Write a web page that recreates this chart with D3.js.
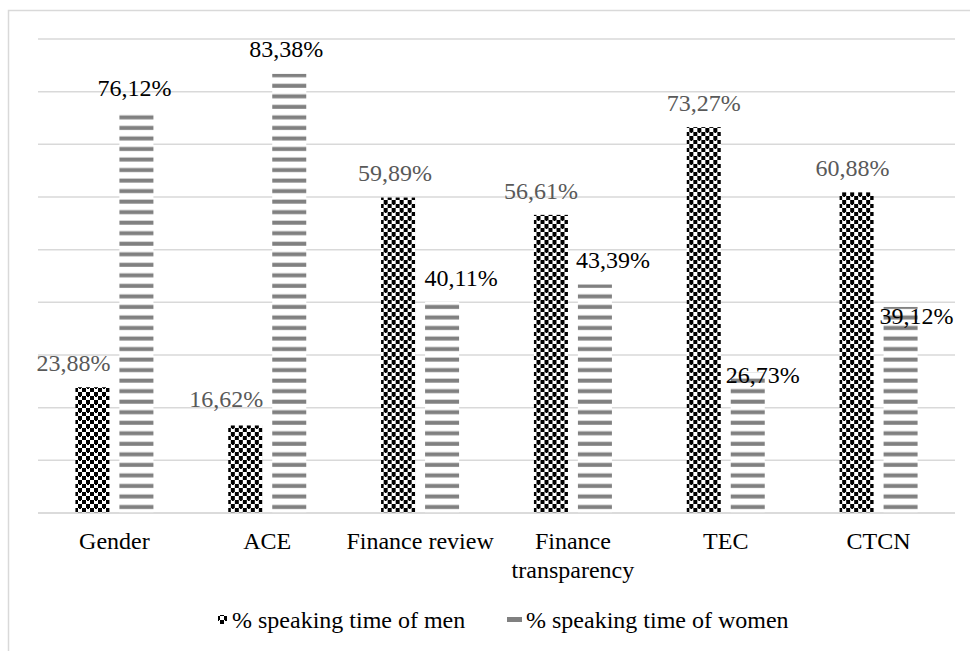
<!DOCTYPE html>
<html><head><meta charset="utf-8"><script src="https://cdn.jsdelivr.net/npm/d3@7/dist/d3.min.js"></script></head>
<body style="margin:0">
<svg id="chart" width="970" height="651"></svg>
<script>
// ---- Data ----
const categories = ["Gender", "ACE", "Finance review", "Finance transparency", "TEC", "CTCN"];
const menValues = [23.88, 16.62, 59.89, 56.61, 73.27, 60.88];
const womenValues = [76.12, 83.38, 40.11, 43.39, 26.73, 39.12];
const seriesNames = ["% speaking time of men", "% speaking time of women"];
const yTicks = [0, 10, 20, 30, 40, 50, 60, 70, 80, 90];

// ---- Layout (not data) ----
const plot = { left: 38, right: 955, top: 39, bottom: 513 };
const fontSize = 24;
const FONT = '"Liberation Serif"';
// manual data label nudges (pixels), as placed in the original
const menLabelNudge = [[-19, -24], [-19, -26], [-3, -24], [-10, -24], [0, -24], [-4, -24]];
const womenLabelNudge = [[-2, -24], [-3, -25], [19, -24], [18, -24], [15, 3], [16, 9]];

const svg = d3.select("#chart");
const defs = svg.append("defs");

// checker pattern for men
const chk = defs.append("pattern").attr("id", "checker")
  .attr("patternUnits", "userSpaceOnUse").attr("width", 8).attr("height", 8);
chk.append("rect").attr("width", 8).attr("height", 8).attr("fill", "#fff");
chk.append("rect").attr("x", 0).attr("y", 0).attr("width", 4).attr("height", 4).attr("fill", "#000");
chk.append("rect").attr("x", 4).attr("y", 4).attr("width", 4).attr("height", 4).attr("fill", "#000");
chk.append("rect").attr("x", 1).attr("y", 3).attr("width", 2).attr("height", 2).attr("fill", "#000");
chk.append("rect").attr("x", 5).attr("y", 7).attr("width", 2).attr("height", 1).attr("fill", "#000");

// horizontal stripes for women
const stripeH = 10.53;
const str = defs.append("pattern").attr("id", "stripes")
  .attr("patternUnits", "userSpaceOnUse").attr("width", 10).attr("height", stripeH)
  .attr("y", plot.bottom);
str.append("rect").attr("width", 10).attr("height", stripeH).attr("fill", "#fff");
str.append("rect").attr("x", 0).attr("y", stripeH - 8).attr("width", 10).attr("height", 4).attr("fill", "#808080");

// outer border
svg.append("rect").attr("x", 8.5).attr("y", 10.5).attr("width", 1000).attr("height", 1000)
  .attr("fill", "none").attr("stroke", "#d9d9d9").attr("stroke-width", 1.5);

// scales
const x0 = d3.scaleBand().domain(categories).range([plot.left, plot.right]).paddingInner(0).paddingOuter(0);
const bw = x0.bandwidth();
const x1 = d3.scaleBand().domain(["men", "women"]).range([bw / 2 - 39, bw / 2 + 39])
  .paddingInner(10 / 44).paddingOuter(0);
const y = d3.scaleLinear().domain([0, 90]).range([plot.bottom, plot.top]);

// gridlines from the y scale
svg.append("g").selectAll("line").data(yTicks).join("line")
  .attr("x1", plot.left).attr("x2", plot.right)
  .attr("y1", d => y(d)).attr("y2", d => y(d))
  .attr("stroke", "#d9d9d9").attr("stroke-width", 1.5);

// bars
const rows = categories.map((c, i) => ({ cat: c, men: menValues[i], women: womenValues[i], i }));
const groups = svg.append("g").selectAll("g").data(rows).join("g")
  .attr("transform", d => `translate(${x0(d.cat)},0)`);

groups.append("rect")
  .attr("x", x1("men")).attr("width", x1.bandwidth())
  .attr("y", d => y(d.men)).attr("height", d => y(0) - y(d.men))
  .attr("fill", "url(#checker)");
groups.append("rect")
  .attr("x", x1("women")).attr("width", x1.bandwidth())
  .attr("y", d => y(d.women)).attr("height", d => y(0) - y(d.women))
  .attr("fill", "url(#stripes)");

// baseline over bars
svg.append("line").attr("x1", plot.left).attr("x2", plot.right)
  .attr("y1", y(0)).attr("y2", y(0)).attr("stroke", "#d9d9d9").attr("stroke-width", 1.5);

const fmt = v => d3.format(".2f")(v).replace(".", ",") + "%";

// data labels
groups.append("text")
  .style("font-family", FONT).attr("font-size", fontSize)
  .attr("x", d => x1("men") + x1.bandwidth() / 2 + menLabelNudge[d.i][0])
  .attr("y", d => y(d.men) + menLabelNudge[d.i][1])
  .attr("dy", "0.33em")
  .attr("text-anchor", "middle").attr("fill", "#595959")
  .text(d => fmt(d.men));
groups.append("text")
  .style("font-family", FONT).attr("font-size", fontSize)
  .attr("x", d => x1("women") + x1.bandwidth() / 2 + womenLabelNudge[d.i][0])
  .attr("y", d => y(d.women) + womenLabelNudge[d.i][1])
  .attr("dy", "0.33em")
  .attr("text-anchor", "middle").attr("fill", "#000")
  .text(d => fmt(d.women));

// category labels with wrapping
const xl = svg.append("g");
categories.forEach(c => {
  const t = xl.append("text").style("font-family", FONT).attr("font-size", fontSize)
    .attr("x", x0(c) + bw / 2).attr("y", 549)
    .attr("text-anchor", "middle").attr("fill", "#000").text(c);
  if (t.node().getComputedTextLength() > bw + 10) {
    const words = c.split(" ");
    t.text("");
    words.forEach((w, k) => {
      t.append("tspan").attr("x", x0(c) + bw / 2).attr("dy", k === 0 ? 0 : 29).text(w);
    });
  }
});

// legend
const lg = svg.append("g");
lg.append("rect").attr("x", 218).attr("y", 615).attr("width", 9).attr("height", 9).attr("fill", "url(#checker)");
lg.append("text").style("font-family", FONT).attr("font-size", fontSize)
  .attr("x", 232).attr("y", 628).attr("fill", "#000").text(seriesNames[0]);
lg.append("rect").attr("x", 507).attr("y", 617).attr("width", 15).attr("height", 5).attr("fill", "#808080");
lg.append("text").style("font-family", FONT).attr("font-size", fontSize)
  .attr("x", 526).attr("y", 628).attr("fill", "#000").text(seriesNames[1]);
</script>
</body></html>
